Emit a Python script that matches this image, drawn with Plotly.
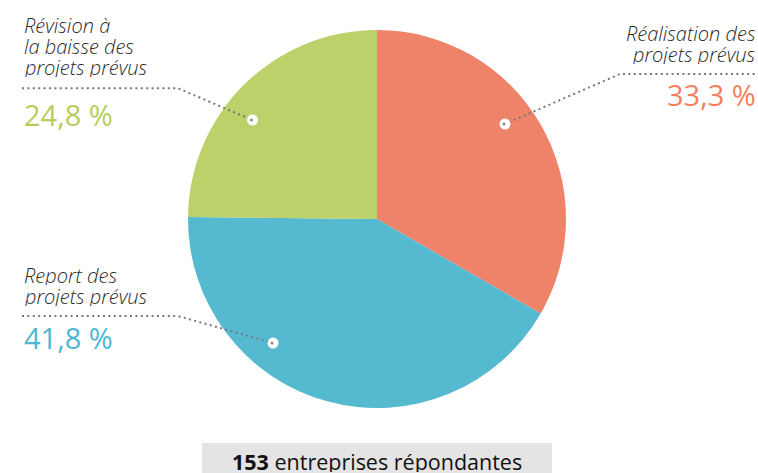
import plotly.graph_objects as go

W, H = 758, 473

# data
categories = ["Réalisation des projets prévus", "Report des projets prévus", "Révision à la baisse des projets prévus"]
values = [33.3, 41.8, 24.8]
value_labels = ["33,3 %", "41,8 %", "24,8 %"]
label_lines = [["Réalisation des", "projets prévus"], ["Report des", "projets prévus"], ["Révision à", "la baisse des", "projets prévus"]]
slice_colors = ["#ef836a", "#55b9cf", "#bdd16b"]
pct_colors = ["#f67f5e", "#4db8d0", "#b6cd5e"]
respondents = 153
footer_text = "entreprises répondantes"

# layout of labels (pixel positions, styling only)
label_side = ["right", "left", "left"]
label_x = [758, 22, 22]
label_first_baseline = [39.5, 281.5, 31.7]
line_step = 21.0
rule_y = [74, 316, 88.3]
rule_outer = [760, 22, 22]
rule_knee = [620, 178, 178]
dot_xy = [(505, 124), (273, 343), (252.5, 120)]
pct_baseline = [107.7, 350, 127.7]
DOT_R = 5.5

FONT = "Open Sans"

fig = go.Figure()

fig.add_trace(go.Pie(
    labels=categories, values=values, sort=False, direction="clockwise", rotation=0,
    marker=dict(colors=slice_colors, line=dict(width=0)), textinfo="none",
    hoverinfo="label+percent", showlegend=False,
    domain=dict(x=[187/W, 567/W], y=[1-408/H, 1-30/H]),
))

annotations = []
shapes = [dict(type="rect", xref="x", yref="y", x0=202, x1=552, y0=443, y1=480,
               fillcolor="#e3e4e3", line=dict(width=0), layer="below")]
for i in range(len(categories)):
    dx, dy = dot_xy[i]
    path = f"M {rule_outer[i]} {rule_y[i]} L {rule_knee[i]} {rule_y[i]} L {dx} {dy}"
    shapes.append(dict(type="path", xref="x", yref="y", path=path, layer="above",
                       line=dict(color="#777777", width=2, dash="2px,3.4px")))
    shapes.append(dict(type="circle", xref="x", yref="y", layer="above",
                       x0=dx - DOT_R, x1=dx + DOT_R, y0=dy - DOT_R, y1=dy + DOT_R,
                       fillcolor="white", line=dict(width=0)))
    shapes.append(dict(type="circle", xref="x", yref="y", layer="above",
                       x0=dx - 2.5, x1=dx + 0.5, y0=dy - 1.5, y1=dy + 1.5,
                       fillcolor="#8a8a8a", line=dict(width=0)))
    anchor = "right" if label_side[i] == "right" else "left"
    for j, t in enumerate(label_lines[i]):
        base = label_first_baseline[i] + j * line_step
        annotations.append(dict(x=label_x[i], y=base - 7, xref="x", yref="y", text=t,
                                showarrow=False, xanchor=anchor, yanchor="middle", height=20,
                                font=dict(family=FONT, size=20, color="#2b2b2b", style="italic", weight=300)))
    annotations.append(dict(x=label_x[i], y=pct_baseline[i] - 13, xref="x", yref="y", text=value_labels[i],
                            showarrow=False, xanchor=anchor, yanchor="middle",
                            font=dict(family=FONT, size=29, color=pct_colors[i])))

annotations.append(dict(x=377, y=461, xref="x", yref="y",
                        text=f"<b>{respondents}</b> {footer_text}", showarrow=False,
                        xanchor="center", yanchor="middle", height=22,
                        font=dict(family=FONT, size=21.5, color="#111111")))

fig.update_layout(
    width=W, height=H, margin=dict(l=0, r=0, t=0, b=0),
    paper_bgcolor="white", plot_bgcolor="rgba(0,0,0,0)",
    xaxis=dict(range=[0, W], visible=False, fixedrange=True),
    yaxis=dict(range=[H, 0], visible=False, fixedrange=True),
    annotations=annotations, shapes=shapes,
    font=dict(family=FONT),
)

fig.write_html("out.html", config={"displayModeBar": False},
               post_script="document.body.style.margin='0px';document.body.style.overflow='hidden';")
